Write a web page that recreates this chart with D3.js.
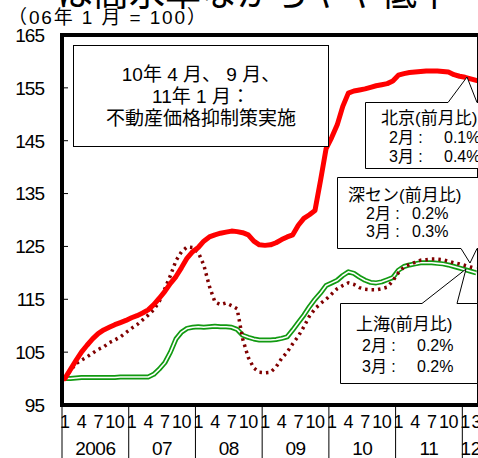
<!DOCTYPE html>
<html><head><meta charset="utf-8">
<script src="https://cdn.jsdelivr.net/npm/d3@7/dist/d3.min.js"></script>
<style>
html,body{margin:0;padding:0;background:#fff;overflow:hidden}
text{font-family:"Liberation Sans","Noto Sans CJK JP",sans-serif;fill:#000}
</style></head><body>
<svg id="c" width="478" height="458"></svg>
<script>
// ---- data (index, Jan 2006 = 100), monthly Jan 2006 .. Mar 2012 ----
const years = ["2006","07","08","09","10","11","12"];
const monthTicks = [1,4,7,10];
const lastYearTicks = [1,3];
const yTicks = [95,105,115,125,135,145,155,165];
const beijing = [100,101.7,103.4,105.0,106.3,107.5,108.5,109.2,109.7,110.2,110.6,111.0,
 111.5,111.9,112.4,113.0,114.0,115.2,116.5,118.0,119.3,121.0,122.8,124.0,
 124.8,126.0,126.8,127.2,127.5,127.7,127.9,127.8,127.6,127.2,126.0,125.3,
 125.2,125.3,125.7,126.3,126.8,127.2,129.0,130.3,131.0,131.8,137.5,143.5,
 145.6,148.0,151.5,154.0,154.4,154.6,154.8,155.1,155.4,155.6,155.8,156.3,
 157.4,157.7,157.9,158.0,158.1,158.2,158.2,158.2,158.1,158.0,157.5,157.2,
 157.0,156.7,156.4];
const shenzhen = [100,101.5,102.8,103.5,104.1,104.8,105.5,106.0,106.8,107.3,107.9,108.7,
 109.5,110.2,111.1,112.0,113.0,114.6,117.0,119.5,122.3,124.0,124.9,124.8,
 123.9,121.5,117.5,114.5,114.0,114.3,113.8,113.2,107.5,104.0,102.0,101.2,
 101.1,101.2,102.2,103.8,105.0,106.6,108.0,109.8,111.8,113.2,114.2,115.0,
 116.0,117.0,117.6,118.1,117.8,117.2,116.9,116.8,116.8,117.0,117.3,118.5,
 120.0,121.1,121.6,122.0,122.4,122.5,122.6,122.6,122.5,122.2,121.9,121.7,
 121.4,121.1,120.8];
const shanghai = [100,100,100.1,100.2,100.2,100.2,100.2,100.2,100.2,100.2,100.3,100.3,
 100.3,100.3,100.3,100.3,100.8,101.8,103.0,105.0,107.5,108.8,109.5,109.7,
 109.8,109.7,109.8,109.9,109.8,109.8,109.7,109.3,108.2,107.8,107.5,107.3,
 107.3,107.3,107.4,107.6,107.9,109.2,110.6,112.0,113.6,115.0,116.2,117.6,
 118.1,118.6,119.5,120.2,119.9,119.2,118.6,118.2,118.1,118.3,118.7,119.1,
 120.5,121.2,121.5,121.7,121.9,121.9,121.9,121.8,121.7,121.5,121.2,120.9,
 120.6,120.3,120.0];
const title = "は高水準ながらやや低下";
const subtitle = "（06年 1 月 = 100）";
const policyNote = ["10年 4 月、 9 月、","11年 1 月：","不動産価格抑制策実施"];
const bjNote = ["北京(前月比)","2月 :","0.1%","3月 :","0.4%"];
const szNote = ["深セン(前月比)","2月 :","0.2%","3月 :","0.3%"];
const shNote = ["上海(前月比)","2月 :","0.2%","3月 :","0.2%"];

const svg = d3.select("#c");
const L = 62, R = 479, T = 35, B = 405;
const x = d3.scaleLinear().domain([0, 75]).range([L, R]);
const y = d3.scaleLinear().domain([95, 165]).range([B, T]);

// title (cut at top) and subtitle
svg.append("text").attr("x", 57).attr("y", 6).attr("font-size", 36)
  .attr("textLength", 396).attr("lengthAdjust","spacing").text(title);
svg.append("text").attr("x", 8).attr("y", 24).attr("font-size", 19)
  .attr("textLength", 198).attr("lengthAdjust","spacing").text(subtitle);

// y tick labels
svg.selectAll(".yl").data(yTicks).join("text")
  .attr("x", 44).attr("y", d => y(d)).attr("dy", "0.36em")
  .attr("text-anchor", "end").attr("font-size", 19).attr("letter-spacing", -1)
  .text(d => d);
// inner ticks
svg.selectAll(".yt").data(yTicks.slice(1, -1)).join("line")
  .attr("x1", L).attr("x2", L + 6).attr("y1", d => y(d)).attr("y2", d => y(d))
  .attr("stroke", "#000").attr("stroke-width", 1);

// x axis: year separators, month & year labels
years.forEach((yr, k) => {
  const x0 = x(k * 12);
  svg.append("line").attr("x1", x0).attr("x2", x0).attr("y1", B).attr("y2", 458)
    .attr("stroke", "#000").attr("stroke-width", 1);
  const ticks = k === years.length - 1 ? lastYearTicks : monthTicks;
  ticks.forEach(m => {
    svg.append("text").attr("x", x(k * 12 + m - 0.5)).attr("y", 428)
      .attr("text-anchor", "middle").attr("font-size", 18).attr("letter-spacing", -0.5).text(m);
  });
  const nMonths = k === years.length - 1 ? 3 : 12;
  svg.append("text").attr("x", x(k * 12 + nMonths / 2)).attr("y", 455)
    .attr("text-anchor", "middle").attr("font-size", 19).attr("letter-spacing", -0.5).text(yr);
});

// lines
const line = d3.line().x((d, i) => x(i + 0.5)).y(d => y(d));
svg.append("path").attr("d", line(shanghai)).attr("fill", "none")
  .attr("stroke", "#119a11").attr("stroke-width", 5).attr("stroke-linejoin", "round");
svg.append("path").attr("d", line(shanghai)).attr("fill", "none")
  .attr("stroke", "#fff").attr("stroke-width", 1.6).attr("stroke-linejoin", "round");
svg.append("path").attr("d", line(shenzhen)).attr("fill", "none")
  .attr("stroke", "#800000").attr("stroke-width", 3.5).attr("stroke-dasharray", "2.5,4");
svg.append("path").attr("d", line(beijing)).attr("fill", "none")
  .attr("stroke", "#ff0000").attr("stroke-width", 5).attr("stroke-linejoin", "round").attr("stroke-linecap","round");

// frame
svg.append("line").attr("x1", L).attr("x2", L).attr("y1", T - 2).attr("y2", B + 2).attr("stroke", "#000").attr("stroke-width", 4);
svg.append("line").attr("x1", L - 2).attr("x2", 478).attr("y1", T).attr("y2", T).attr("stroke", "#000").attr("stroke-width", 4);
svg.append("line").attr("x1", L - 2).attr("x2", 478).attr("y1", B).attr("y2", B).attr("stroke", "#000").attr("stroke-width", 4);
svg.append("line").attr("x1", 477.5).attr("x2", 477.5).attr("y1", T).attr("y2", B).attr("stroke", "#000").attr("stroke-width", 1);

// policy note box
svg.append("rect").attr("x", 73.5).attr("y", 45.5).attr("width", 255).attr("height", 101)
  .attr("fill", "#fff").attr("stroke", "#000").attr("stroke-width", 1);
policyNote.forEach((t, i) => {
  svg.append("text").attr("x", 201).attr("y", 81 + i * 22).attr("text-anchor", "middle")
    .attr("font-size", 19).text(t);
});

// callouts
function callout(pts, lines, tx, lx, vx, ty, dy) {
  svg.append("path").attr("d", d3.line()(pts) + "Z").attr("fill", "#fff")
    .attr("stroke", "#000").attr("stroke-width", 1);
  svg.append("text").attr("x", tx).attr("y", ty).attr("font-size", 17).text(lines[0]);
  svg.append("text").attr("x", lx).attr("y", ty + dy).attr("font-size", 16).text(lines[1]);
  svg.append("text").attr("x", vx).attr("y", ty + dy).attr("font-size", 16).text(lines[2]);
  svg.append("text").attr("x", lx).attr("y", ty + 2 * dy).attr("font-size", 16).text(lines[3]);
  svg.append("text").attr("x", vx).attr("y", ty + 2 * dy).attr("font-size", 16).text(lines[4]);
}
callout([[365.5,102.5],[448,102.5],[467,77],[477,102.5],[485,102.5],[485,168.5],[365.5,168.5]],
  bjNote, 381, 389, 444, 124, 19);
callout([[337.5,177.5],[485,177.5],[485,248.5],[477,248.5],[470,263],[461,248.5],[337.5,248.5]],
  szNote, 348, 366, 412, 201, 18);
callout([[340.5,303.5],[422,303.5],[466,269],[457,303.5],[477.5,303.5],[477.5,383.5],[340.5,383.5]],
  shNote, 356, 362, 417, 330, 21);
</script></body></html>
